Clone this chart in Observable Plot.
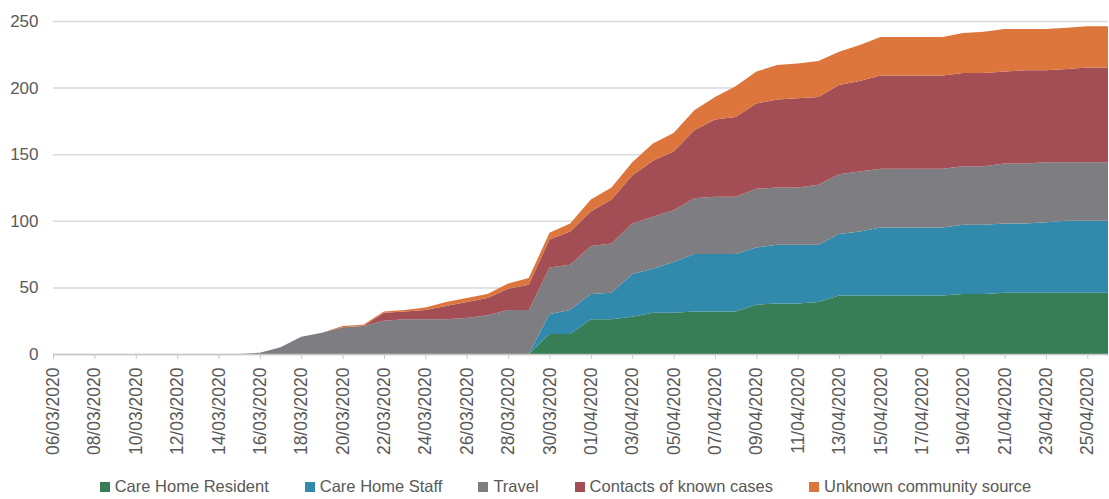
<!DOCTYPE html>
<html>
<head>
<meta charset="utf-8">
<script src="https://cdn.jsdelivr.net/npm/d3@7"></script>
<script src="https://cdn.jsdelivr.net/npm/@observablehq/plot@0.6"></script>
<style>
  html, body { margin: 0; padding: 0; background: #fff; }
  body { width: 1109px; height: 499px; overflow: hidden; font-family: "Liberation Sans", Arial, sans-serif; }
  #legend { display: flex; justify-content: center; align-items: center; gap: 36px; height: 31px; margin-left: 22px;
            padding-top: 3px; font-size: 16.5px; color: #595959; }
  #legend .item { display: flex; align-items: center; gap: 5px; white-space: nowrap; }
  #legend .sw { width: 10px; height: 10px; display: inline-block; }
</style>
</head>
<body>
<div id="chart"></div>
<div id="legend"></div>
<script>
const dates = [
  "2020-03-06","2020-03-07","2020-03-08","2020-03-09","2020-03-10","2020-03-11","2020-03-12","2020-03-13",
  "2020-03-14","2020-03-15","2020-03-16","2020-03-17","2020-03-18","2020-03-19","2020-03-20","2020-03-21",
  "2020-03-22","2020-03-23","2020-03-24","2020-03-25","2020-03-26","2020-03-27","2020-03-28","2020-03-29",
  "2020-03-30","2020-03-31","2020-04-01","2020-04-02","2020-04-03","2020-04-04","2020-04-05","2020-04-06",
  "2020-04-07","2020-04-08","2020-04-09","2020-04-10","2020-04-11","2020-04-12","2020-04-13","2020-04-14",
  "2020-04-15","2020-04-16","2020-04-17","2020-04-18","2020-04-19","2020-04-20","2020-04-21","2020-04-22",
  "2020-04-23","2020-04-24","2020-04-25","2020-04-26"
];
const seriesNames = ["Care Home Resident", "Care Home Staff", "Travel", "Contacts of known cases", "Unknown community source"];
const seriesColors = ["#377d55", "#318aac", "#7e7d82", "#a24e54", "#dc763c"];

const careHomeResident = [0,0,0,0,0,0,0,0, 0,0,0,0,0,0,0,0, 0,0,0,0,0,0,0,0,
  15,15,26,26,28,31,31,32, 32,32,37,38,38,39,44,44, 44,44,44,44,45,45,46,46, 46,46,46,46];
const careHomeStaff = [0,0,0,0,0,0,0,0, 0,0,0,0,0,0,0,0, 0,0,0,0,0,0,0,0,
  15,18,19,20,32,33,38,43, 43,43,43,44,44,43,46,48, 51,51,51,51,52,52,52,52, 53,54,54,54];
const travel = [0,0,0,0,0,0,0,0, 0,0,1,5,13,16,20,21, 25,26,26,26,27,29,33,33,
  35,34,36,37,38,39,39,42, 43,43,44,43,43,45,45,45, 44,44,44,44,44,44,45,45, 45,44,44,44];
const contacts = [0,0,0,0,0,0,0,0, 0,0,0,0,0,0,0,0, 6,6,7,10,12,13,16,19,
  21,25,26,33,36,42,44,51, 58,60,64,66,67,66,67,68, 70,70,70,70,70,70,69,70, 69,70,71,71];
const unknown = [0,0,0,0,0,0,0,0, 0,0,0,0,0,0,1,1, 1,1,2,3,3,3,4,5,
  5,6,9,9,10,13,14,15, 17,23,24,26,26,27,25,27, 29,29,29,29,30,31,32,31, 31,31,31,31];

const tickDates = dates.filter((d, i) => i % 2 === 0);

const seriesValues = [careHomeResident, careHomeStaff, travel, contacts, unknown];
const table = [];
seriesNames.forEach((name, s) => {
  dates.forEach((d, i) => table.push({date: new Date(d + "T00:00:00Z"), value: seriesValues[s][i], series: name}));
});

const fmt = d3.utcFormat("%d/%m/%Y");

const chart = Plot.plot({
  width: 1109,
  height: 468,
  marginLeft: 53,
  marginRight: 1,
  marginTop: 21,
  marginBottom: 114,
  style: {fontFamily: "'Liberation Sans', Arial, sans-serif", color: "#595959", background: "#fff"},
  x: {type: "utc", domain: [new Date(dates[0] + "T00:00:00Z"), new Date(dates[dates.length - 1] + "T00:00:00Z")]},
  y: {domain: [0, 250]},
  color: {domain: seriesNames, range: seriesColors},
  marks: [
    Plot.gridY([0, 50, 100, 150, 200, 250], {stroke: "#d9d9d9", strokeOpacity: 1, strokeWidth: 1.5}),
    Plot.areaY(table, {x: "date", y: "value", fill: "series", order: seriesNames}),
    Plot.ruleY([0], {stroke: "#c8c8c8", strokeWidth: 1.5}),
    Plot.axisY({ticks: [0, 50, 100, 150, 200, 250], tickSize: 0, tickPadding: 15, fontSize: 17, label: null}),
    Plot.axisX({ticks: tickDates.map(d => new Date(d + "T00:00:00Z")), tickFormat: fmt, tickRotate: -90,
      tickSize: 5, tickPadding: 8, fontSize: 17.5, label: null, stroke: "#c8c8c8"})
  ]
});
document.getElementById("chart").appendChild(chart);

const legend = document.getElementById("legend");
seriesNames.forEach((name, i) => {
  const item = document.createElement("div");
  item.className = "item";
  const sw = document.createElement("span");
  sw.className = "sw";
  sw.style.background = seriesColors[i];
  const t = document.createElement("span");
  t.textContent = name;
  item.appendChild(sw);
  item.appendChild(t);
  legend.appendChild(item);
});
</script>
</body>
</html>
